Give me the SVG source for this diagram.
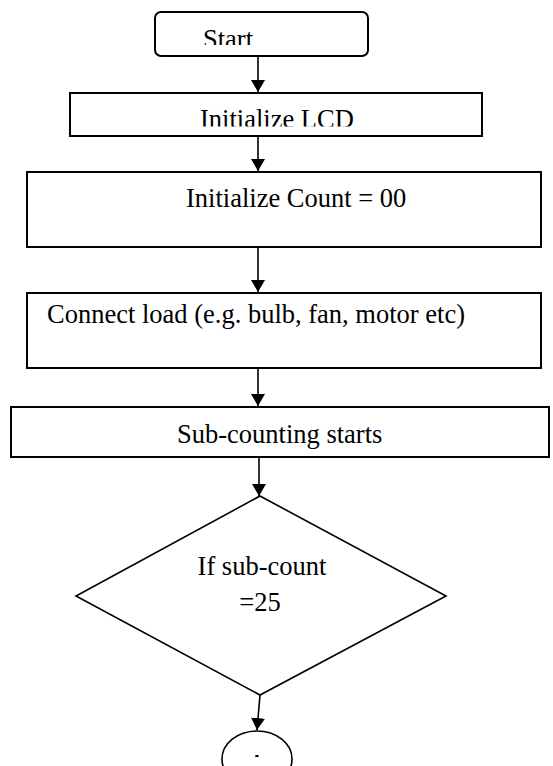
<svg xmlns="http://www.w3.org/2000/svg" width="553" height="766" viewBox="0 0 553 766">
<defs>
<style>
.box{fill:#fff;stroke:#000;stroke-width:2}
.t{font-family:"Liberation Serif","Times New Roman",serif;font-size:26.5px;fill:#000}
.c{stroke:#000;stroke-width:1.6;fill:none}
</style>
<marker id="ah" viewBox="0 0 12 14" refX="12" refY="7" markerWidth="12" markerHeight="14" markerUnits="userSpaceOnUse" orient="auto">
<path d="M0,0 L12,7 L0,14 Z" fill="#000"/>
</marker>
<clipPath id="clipStart"><rect x="155" y="12" width="213" height="33"/></clipPath>
<clipPath id="clipLcd"><rect x="70" y="93" width="412" height="33.5"/></clipPath>
<clipPath id="clipA"><rect x="222" y="731" width="70" height="26"/></clipPath>
</defs>
<rect width="553" height="766" fill="#fff"/>
<g id="connectors">
<line class="c" x1="258" y1="56" x2="258" y2="92" marker-end="url(#ah)"/>
<line class="c" x1="258" y1="136" x2="258" y2="171" marker-end="url(#ah)"/>
<line class="c" x1="258" y1="247" x2="258" y2="292" marker-end="url(#ah)"/>
<line class="c" x1="258" y1="368" x2="258" y2="406" marker-end="url(#ah)"/>
<line class="c" x1="259" y1="457" x2="259" y2="496" marker-end="url(#ah)"/>
<line class="c" x1="260" y1="695" x2="257" y2="730" marker-end="url(#ah)"/>
</g>
<g id="start">
<rect class="box" x="155" y="12" width="213" height="44" rx="6"/>
<text class="t" x="203" y="47.5" clip-path="url(#clipStart)">Start</text>
</g>
<g id="init-lcd">
<rect class="box" x="70" y="93" width="412" height="43"/>
<text class="t" x="200" y="127.5" clip-path="url(#clipLcd)">Initialize LCD</text>
</g>
<g id="init-count">
<rect class="box" x="27" y="172" width="514" height="75"/>
<text class="t" x="186" y="207">Initialize Count = 00</text>
</g>
<g id="connect-load">
<rect class="box" x="27" y="293" width="514" height="75"/>
<text class="t" x="47" y="323">Connect load (e.g. bulb, fan, motor etc)</text>
</g>
<g id="sub-counting">
<rect class="box" x="11" y="407" width="538" height="50"/>
<text class="t" x="177" y="443">Sub-counting starts</text>
</g>
<g id="decision">
<polygon class="box" points="260,496 446,596 260,695 76,596" style="stroke-width:1.6"/>
<text class="t" x="262" y="575" text-anchor="middle">If sub-count</text>
<text class="t" x="260" y="611" text-anchor="middle">=25</text>
</g>
<g id="connector-a">
<ellipse class="box" cx="257" cy="759" rx="35" ry="28" style="stroke-width:1.6"/>
<text class="t" x="257" y="772.5" text-anchor="middle" clip-path="url(#clipA)">A</text>
</g>
</svg>
